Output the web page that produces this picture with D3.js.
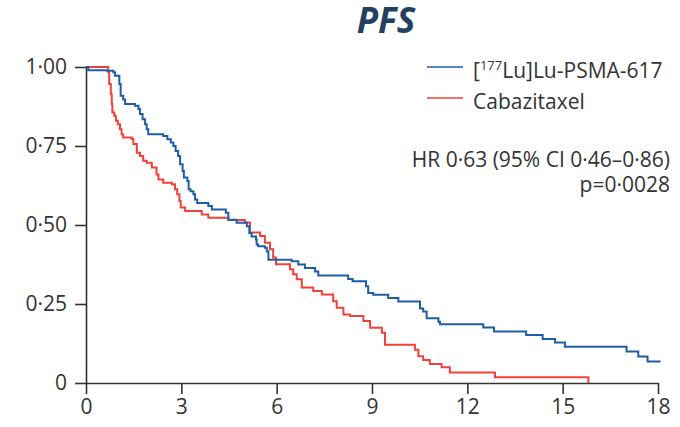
<!DOCTYPE html>
<html>
<head>
<meta charset="utf-8">
<script src="https://cdn.jsdelivr.net/npm/d3@7"></script>
<style>
  html, body { margin: 0; padding: 0; background: #fff; }
  svg { display: block; }
  text { font-family: "Open Sans", "Noto Sans", sans-serif; fill: #333; }
</style>
</head>
<body>
<svg id="chart" width="680" height="427"></svg>
<script>
// Kaplan–Meier progression-free survival, step points [months, proportion]
const lutetiumSteps = [
  [0, 1.00], [0.07, 0.99], [0.65, 0.988], [0.86, 0.983], [0.91, 0.972],
  [1.05, 0.946], [1.09, 0.909], [1.17, 0.897], [1.23, 0.883], [1.54, 0.877],
  [1.65, 0.867], [1.70, 0.851], [1.78, 0.835], [1.86, 0.819], [1.91, 0.803],
  [1.96, 0.787], [2.43, 0.782], [2.56, 0.771], [2.67, 0.761], [2.75, 0.750],
  [2.82, 0.734], [2.90, 0.718], [2.96, 0.692], [3.04, 0.671], [3.08, 0.650],
  [3.19, 0.639], [3.23, 0.613], [3.29, 0.607], [3.38, 0.597], [3.43, 0.581],
  [3.50, 0.570], [3.85, 0.560], [3.96, 0.549], [4.40, 0.539], [4.48, 0.517],
  [4.74, 0.507], [5.06, 0.496], [5.14, 0.475], [5.21, 0.464], [5.35, 0.454],
  [5.37, 0.438], [5.42, 0.433], [5.63, 0.428], [5.69, 0.417], [5.74, 0.390],
  [6.47, 0.385], [6.68, 0.375], [6.89, 0.364], [7.21, 0.353], [7.31, 0.340],
  [8.25, 0.329], [8.39, 0.322], [8.81, 0.306], [8.88, 0.285], [9.04, 0.279],
  [9.51, 0.269], [9.83, 0.258], [10.51, 0.236], [10.61, 0.226], [10.72, 0.205],
  [11.09, 0.194], [11.14, 0.186], [12.50, 0.176], [12.84, 0.163], [13.85, 0.152],
  [14.37, 0.139], [14.76, 0.128], [15.07, 0.115], [17.01, 0.100], [17.38, 0.084],
  [17.67, 0.068], [18.08, 0.068]
];

const cabazitaxelSteps = [
  [0, 1.00], [0.70, 0.983], [0.73, 0.946], [0.78, 0.914], [0.81, 0.883],
  [0.83, 0.856], [0.89, 0.846], [0.94, 0.830], [1.00, 0.819], [1.07, 0.803],
  [1.12, 0.787], [1.17, 0.777], [1.44, 0.772], [1.49, 0.756], [1.60, 0.729],
  [1.70, 0.718], [1.80, 0.703], [1.91, 0.697], [2.07, 0.682], [2.22, 0.660],
  [2.28, 0.644], [2.43, 0.634], [2.70, 0.629], [2.80, 0.613], [2.87, 0.597],
  [2.94, 0.576], [2.98, 0.555], [3.12, 0.544], [3.64, 0.533], [3.85, 0.523],
  [4.48, 0.516], [5.00, 0.508], [5.16, 0.476], [5.48, 0.465], [5.63, 0.444],
  [5.79, 0.423], [5.89, 0.397], [5.98, 0.376], [6.42, 0.360], [6.52, 0.344],
  [6.63, 0.328], [6.79, 0.302], [7.15, 0.291], [7.42, 0.280], [7.78, 0.259],
  [7.89, 0.238], [8.10, 0.217], [8.31, 0.212], [8.73, 0.196], [8.94, 0.175],
  [9.31, 0.159], [9.41, 0.121], [10.35, 0.105], [10.46, 0.085], [10.61, 0.073],
  [10.82, 0.060], [11.19, 0.050], [11.45, 0.033], [12.87, 0.018], [15.81, 0.000]
];

const xTicks = [0, 3, 6, 9, 12, 15, 18];
const yTicks = [0, 0.25, 0.5, 0.75, 1];
const legendLabels = ["Lu-PSMA-617", "Cabazitaxel"];
const hazardText = "HR 0·63 (95% CI 0·46–0·86)";
const pText = "p=0·0028";
const titleText = "PFS";

const colors = { lu: "#1f5ca6", cab: "#f0413a", axis: "#333" };

const svg = d3.select("#chart");
const x = d3.scaleLinear().domain([0, 18]).range([86, 658]);
const y = d3.scaleLinear().domain([0, 1]).range([383, 67]);

// title
svg.append("text")
  .attr("x", 386).attr("y", 33)
  .attr("text-anchor", "middle")
  .style("font-size", "35px").style("font-weight", "700").style("font-style", "italic")
  .style("fill", "#243f60")
  .text(titleText);

// axes
const fmtY = v => v === 0 ? "0" : d3.format(".2f")(v).replace(".", "·");
const yAxis = svg.append("g")
  .attr("transform", `translate(${x(0)},0)`)
  .call(d3.axisLeft(y).tickValues(yTicks).tickFormat(fmtY).tickSize(11).tickSizeOuter(0).tickPadding(8));
const xAxis = svg.append("g")
  .attr("transform", `translate(0,${y(0)})`)
  .call(d3.axisBottom(x).tickValues(xTicks).tickFormat(d3.format("d")).tickSize(11).tickSizeOuter(0).tickPadding(5));

[yAxis, xAxis].forEach(g => {
  g.select(".domain").attr("stroke", colors.axis).attr("stroke-width", 1.6);
  g.selectAll(".tick line").attr("stroke", colors.axis).attr("stroke-width", 1.6);
  g.selectAll(".tick text")
    .style("font-size", "21px")
    .style("font-family", '"Open Sans", "Noto Sans", sans-serif')
    .attr("fill", colors.axis);
});

// survival curves
const line = d3.line().x(d => x(d[0])).y(d => y(d[1])).curve(d3.curveStepAfter);
svg.append("path").datum(cabazitaxelSteps)
  .attr("d", line).attr("fill", "none")
  .attr("stroke", colors.cab).attr("stroke-width", 2);
svg.append("path").datum(lutetiumSteps)
  .attr("d", line).attr("fill", "none")
  .attr("stroke", colors.lu).attr("stroke-width", 2);

// legend
const legend = svg.append("g");
const items = [
  { key: "lu", y: 67, text: legendLabels[0] },
  { key: "cab", y: 98, text: legendLabels[1] }
];
items.forEach(it => {
  legend.append("line")
    .attr("x1", 427).attr("x2", 463).attr("y1", it.y).attr("y2", it.y)
    .attr("stroke", colors[it.key]).attr("stroke-width", 1.6);
  const t = legend.append("text")
    .attr("x", 473).attr("y", it.y + 11)
    .style("font-size", "21px");
  if (it.key === "lu") {
    t.append("tspan").text("[");
    t.append("tspan").text("177").style("font-size", "13px").attr("dy", -8);
    t.append("tspan").text(it.text.slice(0, 2)).attr("dy", 8);
    t.append("tspan").text("]Lu-PSMA-617");
  } else {
    t.text(it.text);
  }
});

// hazard ratio annotation
svg.append("text")
  .attr("x", 670).attr("y", 167)
  .attr("text-anchor", "end")
  .style("font-size", "21px")
  .text(hazardText);
svg.append("text")
  .attr("x", 670).attr("y", 192)
  .attr("text-anchor", "end")
  .style("font-size", "21px")
  .text(pText);
</script>
</body>
</html>
